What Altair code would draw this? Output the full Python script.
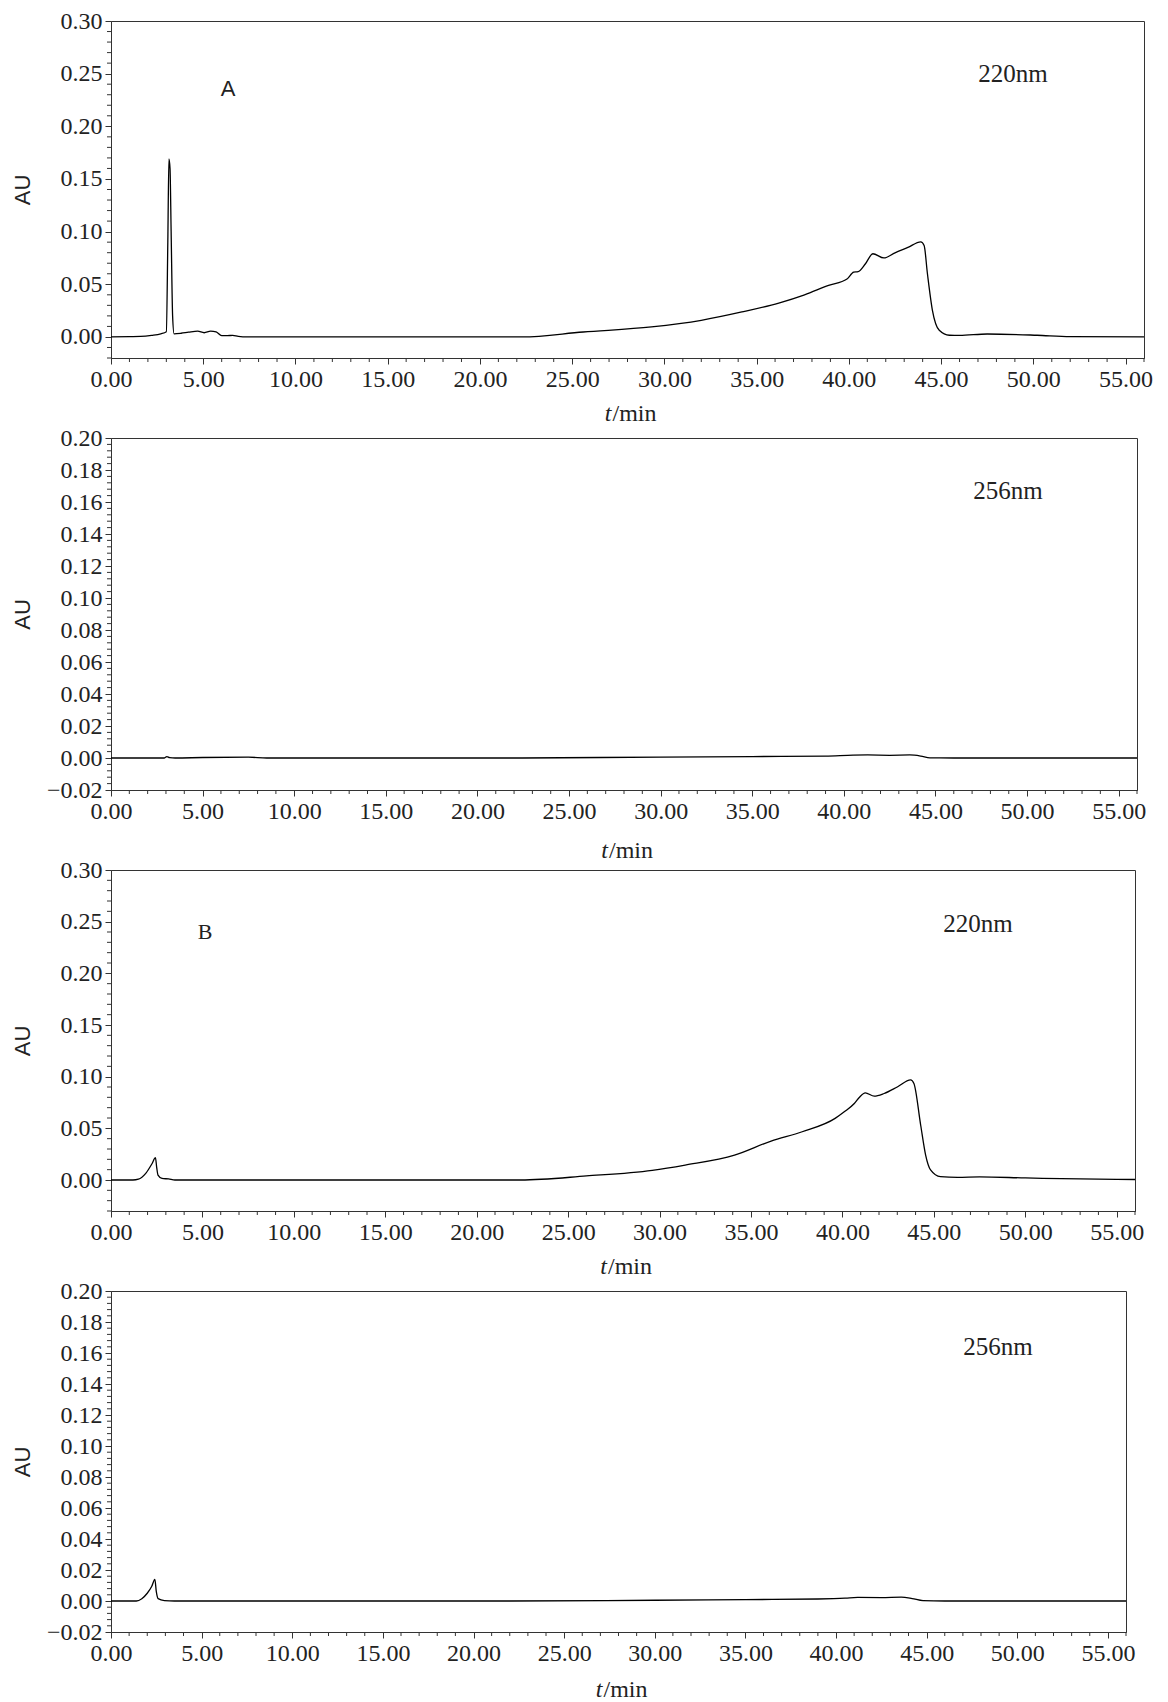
import altair as alt
import pandas as pd

# ---------------- data ----------------
# Panel A, 220 nm
a220_t = [0, 1.0, 1.6, 2.2, 2.7, 3.0, 3.08, 3.14, 3.2, 3.26, 3.34, 3.42, 3.8, 4.2, 4.7, 5.05,
          5.4, 5.7, 6.0, 6.3, 6.6, 6.9, 7.4, 10, 15, 20, 22.3, 25.6, 29.3, 32.0, 34.2, 36.2,
          37.6, 38.9, 39.9, 40.26, 40.5, 40.9, 41.3, 41.9, 42.5, 43.2, 43.9, 44.08, 44.26,
          44.53, 44.9, 45.45, 46.0, 47.5, 50.2, 52, 56]
a220_v = [0, 0.0003, 0.0005, 0.0015, 0.003, 0.005, 0.09, 0.169, 0.16, 0.10, 0.02, 0.003,
          0.0035, 0.0045, 0.0055, 0.004, 0.0055, 0.0048, 0.0012, 0.0012, 0.0015, 0.0005, 0,
          0, 0, 0, 0, 0.0047, 0.0095, 0.0158, 0.0237, 0.0322, 0.040, 0.049, 0.055, 0.0615,
          0.062, 0.0695, 0.079, 0.075, 0.0799, 0.085, 0.0903, 0.0868, 0.060, 0.0253, 0.0063,
          0.0016, 0.0014, 0.0028, 0.0016, 0.0003, 0]

# Panel A, 256 nm
a256_t = [0, 2.9, 3.05, 3.2, 3.5, 5, 7.5, 8.5, 15, 22, 30, 35, 39, 40.5, 41.3, 42.5, 43.6,
          44.2, 44.7, 46, 56]
a256_v = [0, 0, 0.0009, 0.0002, 0, 0.0003, 0.0005, 0, 0, 0, 0.0006, 0.0009, 0.0012, 0.0018,
          0.0019, 0.0017, 0.0019, 0.0012, 0.0001, 0, 0]

# Panel B, 220 nm
b220_t = [0, 1.2, 1.5, 1.9, 2.25, 2.43, 2.5, 2.57, 2.79, 3.15, 3.5, 10, 22.4, 26.0, 29.6,
          31.4, 34.1, 36.1, 37.8, 39.6, 40.1, 40.65, 40.92, 41.25, 41.74, 42.28, 43.0, 43.73,
          43.91, 44.28, 44.55, 44.82, 45.36, 46.3, 47.5, 50, 53, 56]
b220_v = [0, 0, 0.0008, 0.0064, 0.016, 0.0216, 0.012, 0.0048, 0.0016, 0.001, 0, 0, 0,
          0.0039, 0.0094, 0.0145, 0.0241, 0.0377, 0.0467, 0.0596, 0.066, 0.074, 0.0798,
          0.0844, 0.0811, 0.0837, 0.09, 0.0969, 0.0933, 0.053, 0.0241, 0.0097, 0.0032,
          0.0026, 0.003, 0.002, 0.001, 0.0005]

# Panel B, 256 nm
b256_t = [0, 1.4, 1.7, 2.0, 2.25, 2.42, 2.5, 2.6, 2.95, 3.5, 10, 22, 30, 35, 39, 40.5, 41.2,
          42.5, 43.6, 44.2, 44.8, 46, 56]
b256_v = [0, 0, 0.0015, 0.005, 0.0095, 0.0139, 0.006, 0.0015, 0.0003, 0, 0, 0, 0.0005,
          0.0009, 0.0013, 0.0018, 0.0023, 0.0022, 0.0025, 0.0016, 0.0002, 0, 0]

x_major = [0, 5, 10, 15, 20, 25, 30, 35, 40, 45, 50, 55]
x_minor = [m for m in range(0, 57) if m % 5 != 0]

y_major_220 = [0.0, 0.05, 0.10, 0.15, 0.20, 0.25, 0.30]
y_minor_220a = [round(-0.02 + 0.01 * i, 3) for i in range(33) if round((-0.02 + 0.01 * i) * 100) % 5 != 0]
y_minor_220b = [round(-0.03 + 0.01 * i, 3) for i in range(34) if round((-0.03 + 0.01 * i) * 100) % 5 != 0]
y_major_256 = [-0.02, 0.0, 0.02, 0.04, 0.06, 0.08, 0.10, 0.12, 0.14, 0.16, 0.18, 0.20]
y_minor_256 = [round(-0.02 + 0.004 * i, 4) for i in range(56) if i % 5 != 0]

panel_letters = ["A", "", "B", ""]
wavelengths = ["220nm", "256nm", "220nm", "256nm"]

SERIF = "Liberation Serif"
SANS = "Liberation Sans"
INK = "#222222"
AXC = "#333333"


def panel(ts, vs, ydom, ymaj, ymin, W, H, letter, letter_pos, letter_font, wl, wl_pos, tgap):
    df = pd.DataFrame({"t": ts, "v": vs})
    xs = alt.Scale(domain=[0, 56], nice=False, zero=False)
    ys = alt.Scale(domain=ydom, nice=False, zero=False)
    line = alt.Chart(df).mark_line(color="black", strokeWidth=1.3, interpolate="monotone").encode(
        x=alt.X("t:Q", scale=xs, axis=alt.Axis(
            values=x_major, format=".2f", title=None, grid=False, tickSize=6, tickColor=AXC,
            domainColor=AXC, labelFont=SERIF, labelFontSize=24, labelColor=INK,
            labelPadding=3, labelFlush=False, labelOverlap=False)),
        y=alt.Y("v:Q", scale=ys, axis=alt.Axis(
            values=ymaj, format=".2f", title="AU", grid=False, tickSize=6, tickColor=AXC,
            domainColor=AXC, labelFont=SERIF, labelFontSize=24, labelColor=INK,
            labelPadding=3, labelOverlap=False, labelFlush=False,
            titleFont=SANS, titleFontSize=22, titleFontWeight="normal", titleColor=INK,
            titleX=-77, titleY=H / 2, titleAngle=270, titleBaseline="bottom",
            titleAlign="center")),
    )
    yminor = alt.Chart(pd.DataFrame({"m": ymin})).mark_rule(color=AXC, strokeWidth=1).encode(
        y=alt.Y("m:Q", scale=ys, axis=None), x=alt.value(-4), x2=alt.value(0))
    xminor = alt.Chart(pd.DataFrame({"m": x_minor})).mark_rule(color=AXC, strokeWidth=1).encode(
        x=alt.X("m:Q", scale=xs, axis=None), y=alt.value(H), y2=alt.value(H + 4))
    one = pd.DataFrame({"a": [0]})
    t_it = alt.Chart(one).mark_text(text="t", font=SERIF, fontStyle="italic", fontSize=24,
                                    color=INK, align="right", baseline="middle").encode(
        x=alt.value(W / 2 - 16), y=alt.value(H + tgap))
    t_min = alt.Chart(one).mark_text(text="/min", font=SERIF, fontSize=24, color=INK,
                                     align="left", baseline="middle").encode(
        x=alt.value(W / 2 - 15), y=alt.value(H + tgap))
    wl_t = alt.Chart(one).mark_text(text=wl, font=SERIF, fontSize=25, color=INK,
                                    align="center", baseline="middle").encode(
        x=alt.value(wl_pos[0]), y=alt.value(wl_pos[1]))
    layers = [line, yminor, xminor, t_it, t_min, wl_t]
    if letter:
        layers.append(alt.Chart(one).mark_text(text=letter, font=letter_font, fontSize=22,
                                               color=INK, align="center", baseline="middle").encode(
            x=alt.value(letter_pos[0]), y=alt.value(letter_pos[1])))
    return alt.layer(*layers).resolve_axis(x="independent", y="independent").properties(
        width=W, height=H)


p1 = panel(a220_t, a220_v, [-0.02, 0.30], y_major_220, y_minor_220a, 1033, 337,
           panel_letters[0], (117, 68), SANS, wavelengths[0], (902, 53), 56)
p2 = panel(a256_t, a256_v, [-0.02, 0.20], y_major_256, y_minor_256, 1026, 352,
           panel_letters[1], (0, 0), SERIF, wavelengths[1], (897, 53), 61)
p3 = panel(b220_t, b220_v, [-0.03, 0.30], y_major_220, y_minor_220b, 1024, 341,
           panel_letters[2], (94, 62), SERIF, wavelengths[2], (867, 54), 56)
p4 = panel(b256_t, b256_v, [-0.02, 0.20], y_major_256, y_minor_256, 1015, 341,
           panel_letters[3], (0, 0), SERIF, wavelengths[3], (887, 56), 58)

chart = alt.vconcat(p1, p2, p3, p4, spacing=80, bounds="flush").properties(
    padding={"left": 2, "top": 0, "right": 5, "bottom": 0}
).configure_view(stroke=AXC, strokeWidth=1)

chart.save("out.html", embed_options={"renderer": "svg", "actions": False})
